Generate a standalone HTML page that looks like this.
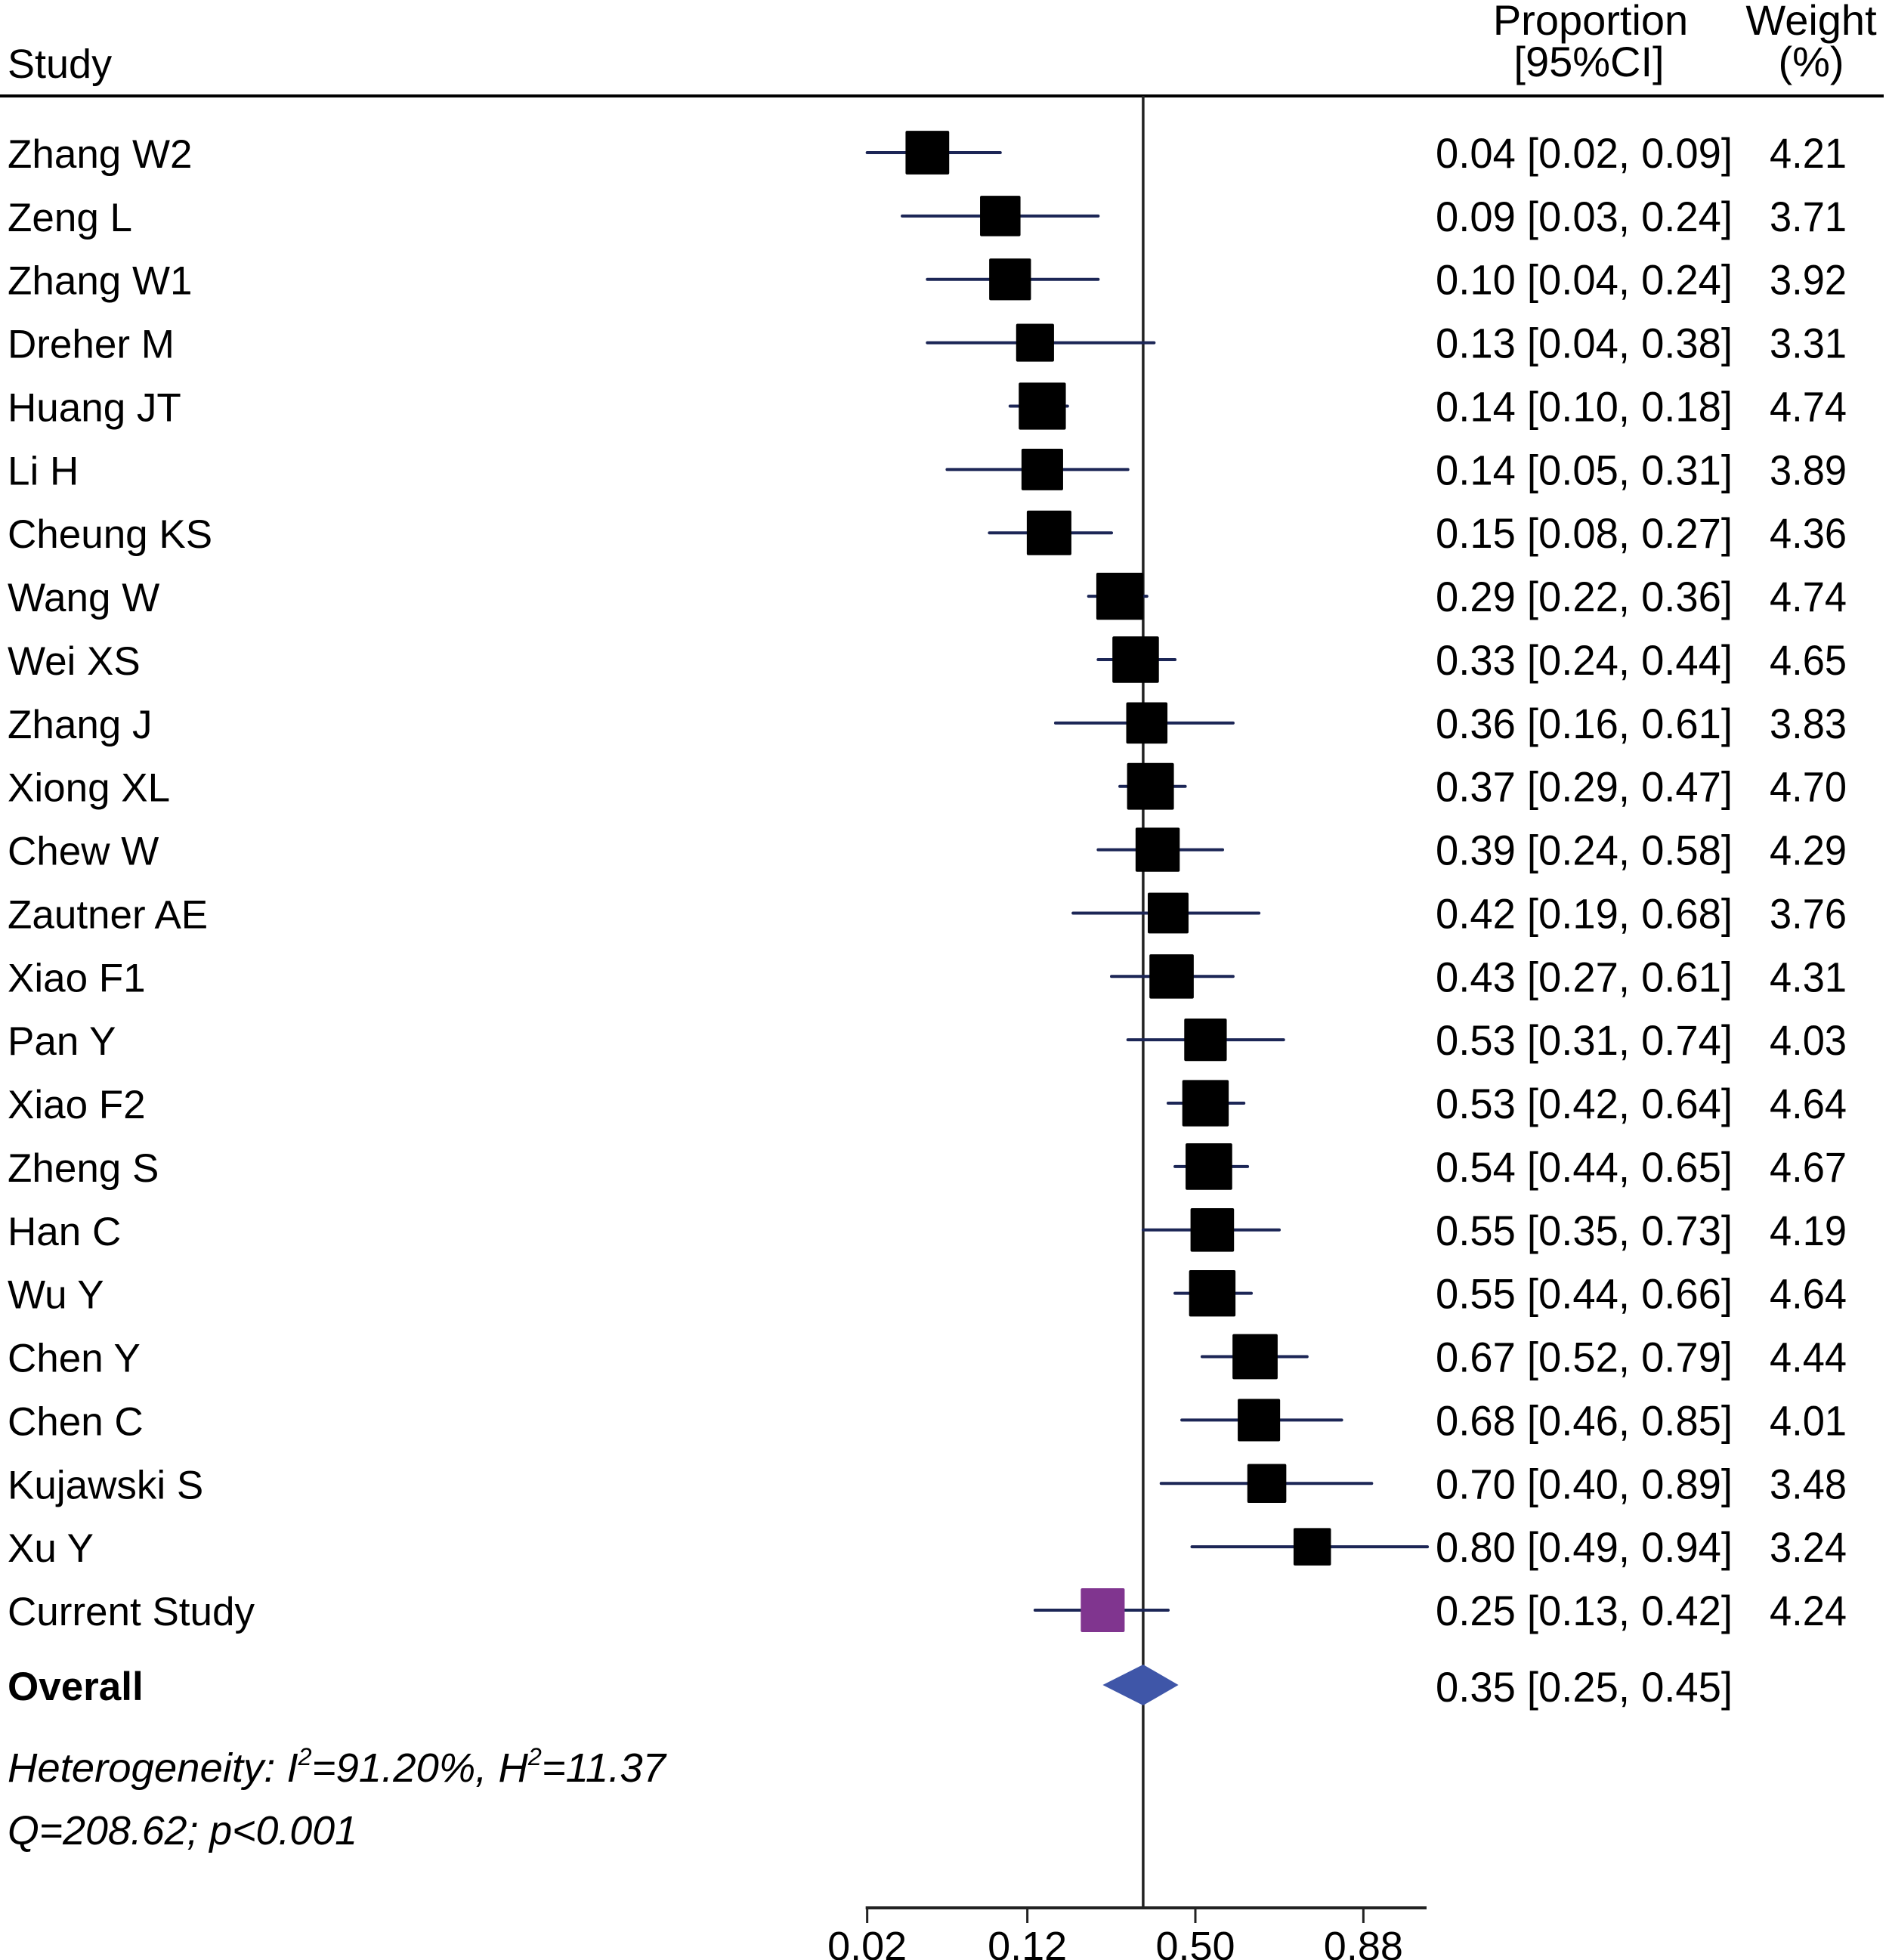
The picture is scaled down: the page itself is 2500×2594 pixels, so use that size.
<!DOCTYPE html>
<html><head><meta charset="utf-8">
<style>
html,body{margin:0;padding:0;background:#fff;}
svg{display:block;}
text{font-family:"Liberation Sans",sans-serif;fill:#000;}
</style></head>
<body>
<svg id="chart" width="2500" height="2594" viewBox="0 0 2500 2594" xmlns="http://www.w3.org/2000/svg">
<g id="header">
<text x="10" y="103" font-size="54">Study</text>
<text x="2105" y="46" font-size="56" text-anchor="middle">Proportion</text>
<text x="2103" y="101" font-size="56" text-anchor="middle">[95%CI]</text>
<text x="2397" y="46" font-size="56" text-anchor="middle">Weight</text>
<text x="2397" y="101" font-size="56" text-anchor="middle">(%)</text>
<line x1="0" y1="127" x2="2493" y2="127" stroke="#000" stroke-width="4"/>
</g>
<g id="marks"></g>
<g id="footer">
<text x="10" y="2358" font-size="54" font-style="italic" textLength="871" lengthAdjust="spacingAndGlyphs">Heterogeneity: I<tspan font-size="32" dy="-22">2</tspan><tspan dy="22">=91.20%, H</tspan><tspan font-size="32" dy="-22">2</tspan><tspan dy="22">=11.37</tspan></text>
<text x="10" y="2441" font-size="54" font-style="italic" textLength="463" lengthAdjust="spacingAndGlyphs">Q=208.62; p&lt;0.001</text>
</g>
</svg>
<script>
const studies = ["Zhang W2","Zeng L","Zhang W1","Dreher M","Huang JT","Li H","Cheung KS","Wang W","Wei XS","Zhang J","Xiong XL","Chew W","Zautner AE","Xiao F1","Pan Y","Xiao F2","Zheng S","Han C","Wu Y","Chen Y","Chen C","Kujawski S","Xu Y","Current Study"];
const estimates = [0.04,0.09,0.10,0.13,0.14,0.14,0.15,0.29,0.33,0.36,0.37,0.39,0.42,0.43,0.53,0.53,0.54,0.55,0.55,0.67,0.68,0.70,0.80,0.25];
const lowers = [0.02,0.03,0.04,0.04,0.10,0.05,0.08,0.22,0.24,0.16,0.29,0.24,0.19,0.27,0.31,0.42,0.44,0.35,0.44,0.52,0.46,0.40,0.49,0.13];
const uppers = [0.09,0.24,0.24,0.38,0.18,0.31,0.27,0.36,0.44,0.61,0.47,0.58,0.68,0.61,0.74,0.64,0.65,0.73,0.66,0.79,0.85,0.89,0.94,0.42];
const weights = [4.21,3.71,3.92,3.31,4.74,3.89,4.36,4.74,4.65,3.83,4.70,4.29,3.76,4.31,4.03,4.64,4.67,4.19,4.64,4.44,4.01,3.48,3.24,4.24];
const overall = [0.35,0.25,0.45];
const tickValues = [0.02,0.12,0.50,0.88];
const tickLabels = ["0.02","0.12","0.50","0.88"];

const NS='http://www.w3.org/2000/svg';
const g=document.getElementById('marks');
const logit=p=>Math.log(p/(1-p));
const xScale=p=>1582+111.6*logit(p);
const rowY=i=>202+i*83.87;
function mk(tag,attrs,parent){const e=document.createElementNS(NS,tag);for(const k in attrs)e.setAttribute(k,attrs[k]);(parent||g).appendChild(e);return e;}
function f2(v){return v.toFixed(2);}

studies.forEach((s,i)=>{
  const y=rowY(i);
  const isCurrent = s==="Current Study";
  const lab=mk('text',{x:10,y:y+20,'font-size':53});
  
  
  lab.textContent=s;
  const ci=mk('line',{x1:xScale(lowers[i]),x2:xScale(uppers[i]),y1:y,y2:y,stroke:'#1c2656','stroke-width':4,'stroke-linecap':'round'});
  
  
  const sz=22+8.5*weights[i];
  const box=mk('rect',{x:xScale(estimates[i])-sz/2,y:y-sz/2,width:sz,height:sz,rx:2,fill:isCurrent?'#80358f':'#000'});
  
  
  const val=mk('text',{x:1900,y:y+20,'font-size':56,textLength:393,lengthAdjust:'spacingAndGlyphs'});
  
  
  val.textContent=f2(estimates[i])+' ['+f2(lowers[i])+', '+f2(uppers[i])+']';
  const w=mk('text',{x:2342,y:y+20,'font-size':56,textLength:102,lengthAdjust:'spacingAndGlyphs'});
  
  
  w.textContent=f2(weights[i]);
});

// overall
const oy=2230;
const ol=mk('text',{x:10,y:oy+20,'font-size':53,'font-weight':'bold'});


ol.textContent='Overall';
const pts=[[xScale(overall[1]),oy],[xScale(overall[0]),oy-27],[xScale(overall[2]),oy],[xScale(overall[0]),oy+27]].map(p=>p[0].toFixed(1)+','+p[1]).join(' ');
const dia=mk('polygon',{points:pts,fill:'#3f56a8'});


const ov=mk('text',{x:1900,y:oy+22,'font-size':56,textLength:393,lengthAdjust:'spacingAndGlyphs'});


ov.textContent=f2(overall[0])+' ['+f2(overall[1])+', '+f2(overall[2])+']';

// reference line at overall
const ref=mk('line',{x1:xScale(overall[0]),x2:xScale(overall[0]),y1:127,y2:2525,stroke:'#222','stroke-width':3.5});


g.insertBefore(ref,g.firstChild);

// axis
const ax=mk('line',{x1:xScale(tickValues[0])-2,x2:1888,y1:2525,y2:2525,stroke:'#222','stroke-width':4});


tickValues.forEach((t,i)=>{
  const tk=mk('line',{x1:xScale(t),x2:xScale(t),y1:2525,y2:2545,stroke:'#222','stroke-width':3});
  
  
  const tl=mk('text',{x:xScale(t),y:2594,'font-size':54,'text-anchor':'middle'});
  
  
  tl.textContent=tickLabels[i];
});
</script>
</body></html>
